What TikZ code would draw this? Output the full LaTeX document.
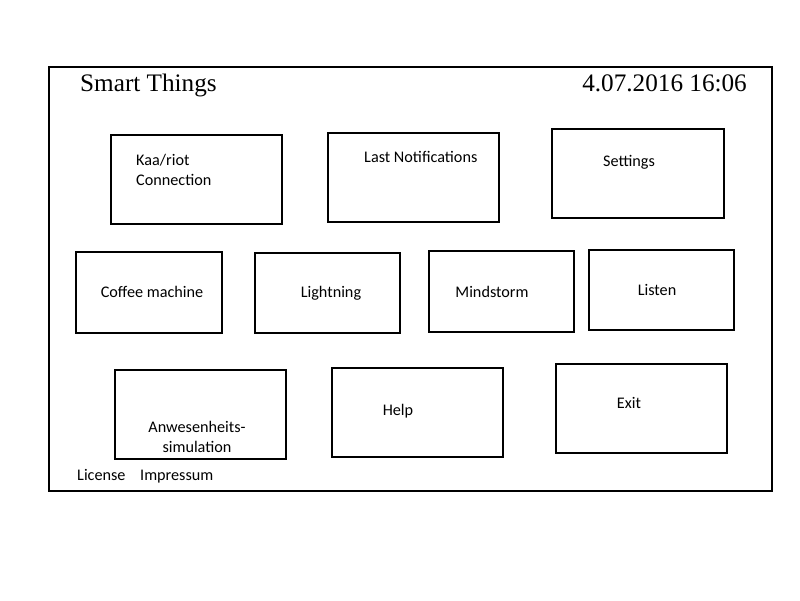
\documentclass[tikz,border=0pt]{standalone}
\usepackage{fontspec}
\setmainfont{Carlito}
\newfontfamily\titlefont{Liberation Serif}
\begin{document}
\begin{tikzpicture}[x=1pt,y=-1pt,
  boxthick/.style={draw=black,line width=2.2pt},
  boxmed/.style={draw=black,line width=1.7pt},
  boxthin/.style={draw=black,line width=1.1pt},
  lbl/.style={inner sep=0pt,font=\fontsize{16.2}{19}\selectfont},
  ttl/.style={inner sep=0pt,font=\titlefont\fontsize{25.2}{30}\selectfont}]
\useasboundingbox (0,0) rectangle (800,600);
\fill[white] (0,0) rectangle (800,600);
% frame
\draw[line width=1.8pt] (49,67) rectangle (772,491);
\node[ttl,anchor=base west] (title) at (80,91) {Smart Things};
\node[ttl,anchor=base east] (date) at (747,91) {4.07.2016 16:06};
% row 1
\draw[boxmed] (111,135) rectangle (282,224);
\node[lbl,anchor=base west] (kaa1) at (136,165) {Kaa/riot};
\node[lbl,anchor=base west] (kaa2) at (136,185) {Connection};
\draw[boxthin] (328,133) rectangle (499,222);
\node[lbl,anchor=base west] (notif) at (364,162) {Last Notifications};
\draw[boxmed] (552,129) rectangle (724,218);
\node[lbl,anchor=base] (settings) at (629,166) {Settings};
% row 2
\draw[boxthick] (76,252) rectangle (222,333);
\node[lbl,anchor=base] (coffee) at (152,297) {Coffee machine};
\draw[boxthick] (255,253) rectangle (400,333);
\node[lbl,anchor=base] (light) at (331,297) {Lightning};
\draw[boxthick] (429,251) rectangle (574,332);
\node[lbl,anchor=base] (mind) at (492,297) {Mindstorm};
\draw[boxthick] (589,250) rectangle (734,330);
\node[lbl,anchor=base] (listen) at (657,295) {Listen};
% row 3
\draw[boxthick] (115,370) rectangle (286,459);
\node[lbl,anchor=base] (anw1) at (197,432) {Anwesenheits-};
\node[lbl,anchor=base] (anw2) at (197,452) {simulation};
\draw[boxmed] (332,368) rectangle (503,457);
\node[lbl,anchor=base] (help) at (398,415) {Help};
\draw[boxmed] (556,364) rectangle (727,453);
\node[lbl,anchor=base] (exit) at (629,408) {Exit};
% footer
\node[lbl,anchor=base west] (license) at (77,480) {License};
\node[lbl,anchor=base west] (impressum) at (140,480) {Impressum};
\end{tikzpicture}
\end{document}
